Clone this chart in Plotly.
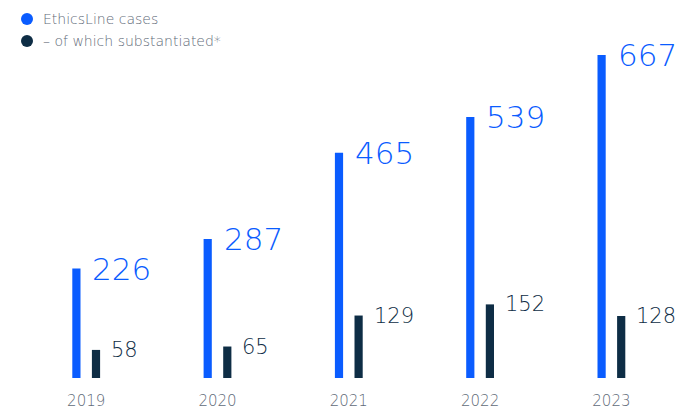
import plotly.graph_objects as go

years = ["2019", "2020", "2021", "2022", "2023"]
cases = [226, 287, 465, 539, 667]
substantiated = [58, 65, 129, 152, 128]

BLUE = "#0a5cff"
NAVY = "#0e2d45"
GREY = "#5f6b79"
FONT = "DejaVu Sans"

W, H = 680, 409
MT, MB = 30, 31
PH = H - MT - MB          # plot-area height in pixels
step_px = 131.3           # pixels between year groups
first_px = 86.2           # pixel centre of the first group
x0 = -first_px / step_px
x1 = x0 + W / step_px
off = 9.8 / step_px       # half distance between the two bars of a group
bw = 8.2 / step_px        # bar width

idx = list(range(len(years)))

fig = go.Figure()
fig.add_trace(go.Bar(x=[i - off for i in idx], y=cases, width=bw,
                     marker=dict(color=BLUE, line=dict(width=0)),
                     name="EthicsLine cases", showlegend=False))
fig.add_trace(go.Bar(x=[i + off for i in idx], y=substantiated, width=bw,
                     marker=dict(color=NAVY, line=dict(width=0)),
                     name="– of which substantiated*", showlegend=False))

for i in idx:
    fig.add_annotation(x=i - off, y=cases[i], text=str(cases[i]),
                       xanchor="left", yanchor="middle", xshift=14,
                       showarrow=False,
                       font=dict(family=FONT, size=31, color=BLUE, weight=200))
    fig.add_annotation(x=i + off, y=substantiated[i], text=str(substantiated[i]),
                       xanchor="left", yanchor="middle", xshift=13,
                       showarrow=False,
                       font=dict(family=FONT, size=21, color=NAVY, weight=200))


def py(ypx):
    """Page pixel row -> paper y coordinate."""
    return (H - MB - ypx) / PH


# legend: dots + labels
legend_items = [("EthicsLine cases", BLUE, 19), ("– of which substantiated*", NAVY, 41)]
for label, color, ypx in legend_items:
    fig.add_shape(type="circle", xref="paper", yref="paper",
                  x0=21 / W, x1=33 / W,
                  y0=py(ypx + 6), y1=py(ypx - 6),
                  fillcolor=color, line=dict(width=0))
    fig.add_annotation(xref="paper", yref="paper", x=41 / W, y=py(ypx),
                       text=label, xanchor="left", yanchor="middle",
                       showarrow=False,
                       font=dict(family=FONT, size=14, color=GREY, weight=200))

fig.update_layout(
    width=W, height=H,
    margin=dict(l=0, r=0, t=MT, b=MB, autoexpand=False),
    plot_bgcolor="white", paper_bgcolor="white",
    showlegend=False,
    xaxis=dict(range=[x0, x1], tickvals=idx, ticktext=years,
               showgrid=False, zeroline=False, showline=False,
               ticks="", ticklabelstandoff=12, automargin=False,
               tickfont=dict(family=FONT, size=15, color=GREY, weight=200)),
    yaxis=dict(range=[0, 718.6], visible=False, showgrid=False,
               zeroline=False, automargin=False),
)

fig.write_html("out.html")
